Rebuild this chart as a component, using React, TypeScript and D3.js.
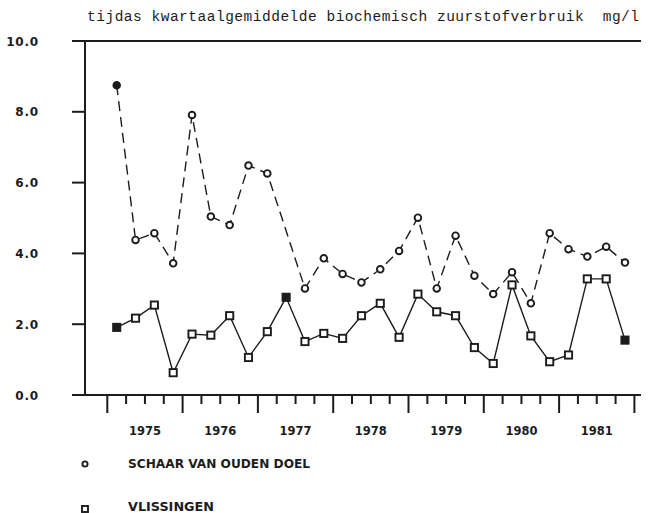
import React from 'react';
import * as d3 from 'd3';

// Quarterly averages of biochemical oxygen demand (mg/l), 1975 Q1 – 1981 Q4
const YEARS = [1975, 1976, 1977, 1978, 1979, 1980, 1981];
const Y_TICKS = [0, 2, 4, 6, 8, 10];
const SCHAAR: (number | null)[] = [
  8.75, 4.38, 4.57, 3.72, 7.91, 5.04, 4.8, 6.48, 6.26, null, 3.01, 3.86, 3.42, 3.18,
  3.55, 4.07, 5.01, 3.01, 4.5, 3.37, 2.85, 3.47, 2.59, 4.57, 4.12, 3.91, 4.19, 3.74,
];
const VLISSINGEN: (number | null)[] = [
  1.91, 2.17, 2.54, 0.63, 1.72, 1.69, 2.24, 1.06, 1.79, 2.76, 1.51, 1.74, 1.6, 2.24,
  2.59, 1.63, 2.85, 2.35, 2.24, 1.34, 0.89, 3.11, 1.67, 0.94, 1.13, 3.28, 3.28, 1.55,
];
const SCHAAR_SOLID = [0];
const VLISSINGEN_SOLID = [0, 9, 27];
const TITLE = 'tijdas kwartaalgemiddelde biochemisch zuurstofverbruik  mg/l';
const LEGEND = ['SCHAAR VAN OUDEN DOEL', 'VLISSINGEN'];

const W = 653;
const H = 513;
const INK = '#1c1c1c';

const x = d3.scaleLinear().domain([1975, 1982]).range([107.3, 634.4]);
const y = d3.scaleLinear().domain([0, 10]).range([395, 41]);

type Pt = { i: number; v: number };
const toPts = (vals: (number | null)[]): Pt[] =>
  vals.map((v, i) => ({ i, v })).filter((d): d is Pt => d.v != null);
const qx = (i: number) => x(1975 + (i + 0.5) / 4);

const line = d3
  .line<Pt>()
  .x((d) => qx(d.i))
  .y((d) => y(d.v));

export default function App() {
  const schaar = toPts(SCHAAR);
  const vliss = toPts(VLISSINGEN);
  const quarters = d3.range(0, 29);
  const axisFont = { fontFamily: '"DejaVu Sans", sans-serif', fontWeight: 700 };

  return (
    <svg
      width={W}
      height={H}
      viewBox={`0 0 ${W} ${H}`}
      style={{ position: 'absolute', left: 0, top: 0, background: '#fff' }}
    >
      {/* title */}
      <text
        x={87}
        y={21}
        fontFamily='"Liberation Mono", "Courier New", monospace'
        fontSize={14.5}
        fill={INK}
        textLength={552}
        lengthAdjust="spacing"
        style={{ whiteSpace: 'pre' }}
      >
        {TITLE}
      </text>

      {/* frame */}
      <g stroke={INK} strokeWidth={2} fill="none">
        <line x1={72} x2={641} y1={y(10)} y2={y(10)} />
        <line x1={72} x2={641} y1={y(0)} y2={y(0)} />
        <line x1={85} x2={85} y1={y(10)} y2={y(0)} />
        {Y_TICKS.filter((t) => t > 0 && t < 10).map((t) => (
          <line key={t} x1={72} x2={85} y1={y(t)} y2={y(t)} />
        ))}
        {quarters.map((q) => (
          <line
            key={q}
            x1={x(1975 + q / 4)}
            x2={x(1975 + q / 4)}
            y1={y(0)}
            y2={q % 4 === 0 ? 413 : 404}
          />
        ))}
      </g>

      {/* y labels */}
      {Y_TICKS.map((t) => (
        <text
          key={t}
          x={39}
          y={y(t) + 4.5}
          textAnchor="end"
          fontSize={12}
          fill={INK}
          letterSpacing={0.8}
          {...axisFont}
        >
          {t.toFixed(1)}
        </text>
      ))}

      {/* x labels */}
      {YEARS.map((yr) => (
        <text
          key={yr}
          x={x(yr + 0.5)}
          y={435}
          textAnchor="middle"
          fontSize={11.5}
          fill={INK}
          {...axisFont}
        >
          {yr}
        </text>
      ))}

      {/* series lines */}
      <path d={line(schaar) ?? ''} fill="none" stroke={INK} strokeWidth={1.4} strokeDasharray="10,6" />
      <path d={line(vliss) ?? ''} fill="none" stroke={INK} strokeWidth={1.4} />

      {/* markers */}
      {schaar.map((d) => (
        <circle
          key={`c${d.i}`}
          cx={qx(d.i)}
          cy={y(d.v)}
          r={3.3}
          fill={SCHAAR_SOLID.includes(d.i) ? INK : '#fff'}
          stroke={INK}
          strokeWidth={1.9}
        />
      ))}
      {vliss.map((d) => (
        <rect
          key={`s${d.i}`}
          x={qx(d.i) - 3.6}
          y={y(d.v) - 3.6}
          width={7.2}
          height={7.2}
          fill={VLISSINGEN_SOLID.includes(d.i) ? INK : '#fff'}
          stroke={INK}
          strokeWidth={1.9}
        />
      ))}

      {/* legend */}
      <circle cx={85} cy={464} r={2.6} fill="#fff" stroke={INK} strokeWidth={1.9} />
      <text x={128} y={467.5} fontSize={11.5} fill={INK} textLength={182} lengthAdjust="spacingAndGlyphs" {...axisFont}>
        {LEGEND[0]}
      </text>
      <rect x={82} y={506} width={6} height={6} fill="#fff" stroke={INK} strokeWidth={1.9} />
      <text x={128} y={510.5} fontSize={11.5} fill={INK} textLength={86} lengthAdjust="spacingAndGlyphs" {...axisFont}>
        {LEGEND[1]}
      </text>
    </svg>
  );
}
